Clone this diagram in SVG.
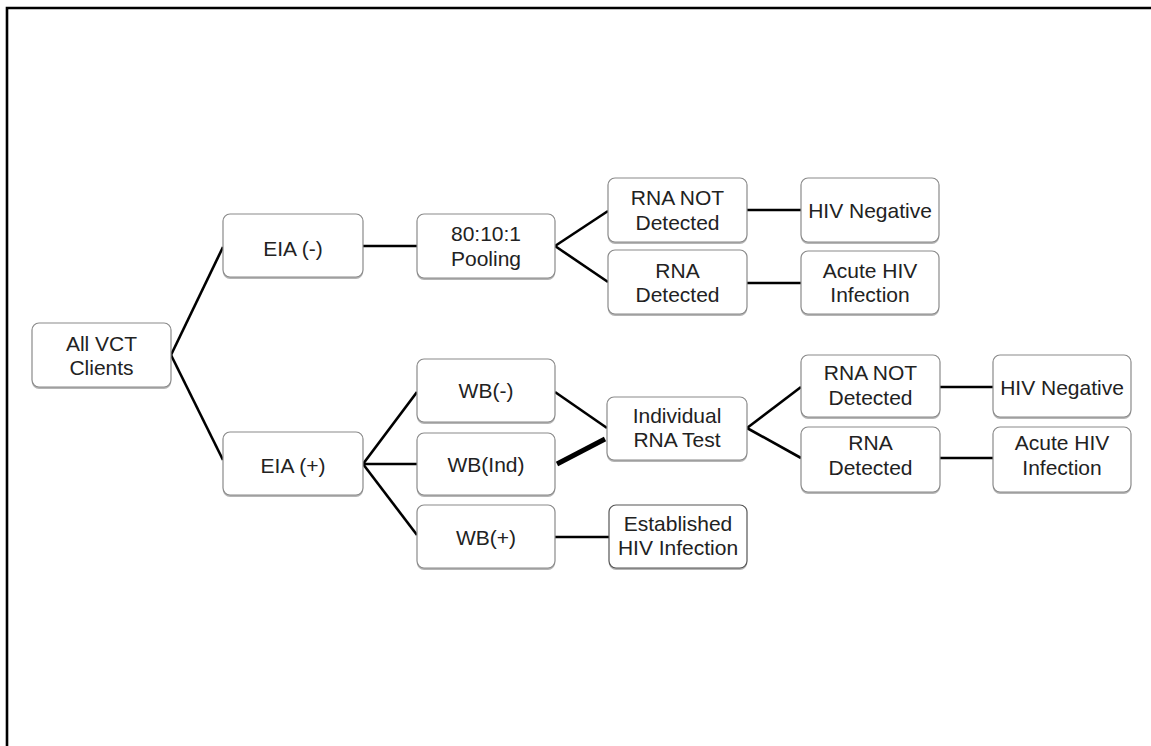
<svg xmlns="http://www.w3.org/2000/svg" width="1151" height="746" viewBox="0 0 1151 746">
<defs>
<style>
.box{fill:#fff;stroke:#8a8a8a;stroke-width:1.2}
.sh{fill:#b5b5b5;stroke:none}
.t{font-family:"Liberation Sans",Arial,sans-serif;font-size:21px;fill:#222;text-anchor:middle}
.c{stroke:#000;stroke-width:2.6;fill:none;stroke-linecap:butt}
.frame{stroke:#000;stroke-width:2.6;fill:none}
</style>
</defs>
<rect width="1151" height="746" fill="#fff"/>
<path class="frame" d="M7,746 V8 H1151"/>
<g id="connectors">
<line class="c" x1="171" y1="355" x2="223" y2="247"/>
<line class="c" x1="171" y1="355" x2="223" y2="460"/>
<line class="c" x1="363" y1="246" x2="417" y2="246"/>
<line class="c" x1="555" y1="246" x2="608" y2="211"/>
<line class="c" x1="555" y1="246" x2="608" y2="282"/>
<line class="c" x1="747" y1="210" x2="801" y2="210"/>
<line class="c" x1="747" y1="283" x2="801" y2="283"/>
<line class="c" x1="363" y1="464" x2="417" y2="392"/>
<line class="c" x1="363" y1="464" x2="417" y2="464"/>
<line class="c" x1="363" y1="464" x2="417" y2="535"/>
<line class="c" x1="555" y1="392" x2="607" y2="428"/>
<line class="c" x1="557" y1="464" x2="605" y2="439" style="stroke-width:5"/>
<line class="c" x1="555" y1="537" x2="609" y2="537"/>
<line class="c" x1="747" y1="428" x2="801" y2="387"/>
<line class="c" x1="747" y1="428" x2="801" y2="458"/>
<line class="c" x1="940" y1="387" x2="993" y2="387"/>
<line class="c" x1="940" y1="458" x2="993" y2="458"/>
</g>
<g id="n-all">
<rect class="sh" x="32" y="325" width="139" height="64" rx="7"/>
<rect class="box" x="32" y="323" width="139" height="64" rx="7"/>
<text class="t" x="101.5" y="350.5">All VCT</text>
<text class="t" x="101.5" y="374.5">Clients</text>
</g>
<g id="n-eia-neg">
<rect class="sh" x="223" y="216" width="140" height="63" rx="7"/>
<rect class="box" x="223" y="214" width="140" height="63" rx="7"/>
<text class="t" x="293" y="255.5">EIA (-)</text>
</g>
<g id="n-eia-pos">
<rect class="sh" x="223" y="434" width="140" height="63" rx="7"/>
<rect class="box" x="223" y="432" width="140" height="63" rx="7"/>
<text class="t" x="293" y="472.5">EIA (+)</text>
</g>
<g id="n-pool">
<rect class="sh" x="417" y="216" width="138" height="64" rx="7"/>
<rect class="box" x="417" y="214" width="138" height="64" rx="7"/>
<text class="t" x="486" y="240.5">80:10:1</text>
<text class="t" x="486" y="265.5">Pooling</text>
</g>
<g id="n-rna-not-1">
<rect class="sh" x="608" y="180" width="139" height="64" rx="7"/>
<rect class="box" x="608" y="178" width="139" height="64" rx="7"/>
<text class="t" x="677.5" y="204.5">RNA NOT</text>
<text class="t" x="677.5" y="229.5">Detected</text>
</g>
<g id="n-rna-det-1">
<rect class="sh" x="608" y="252" width="139" height="64" rx="7"/>
<rect class="box" x="608" y="250" width="139" height="64" rx="7"/>
<text class="t" x="677.5" y="277.5">RNA</text>
<text class="t" x="677.5" y="301.5">Detected</text>
</g>
<g id="n-hivneg-1">
<rect class="sh" x="801" y="180" width="138" height="64" rx="7"/>
<rect class="box" x="801" y="178" width="138" height="64" rx="7"/>
<text class="t" x="870" y="217.5">HIV Negative</text>
</g>
<g id="n-acute-1">
<rect class="sh" x="801" y="253" width="138" height="63" rx="7"/>
<rect class="box" x="801" y="251" width="138" height="63" rx="7"/>
<text class="t" x="870" y="277.5">Acute HIV</text>
<text class="t" x="870" y="301.5">Infection</text>
</g>
<g id="n-wb-neg">
<rect class="sh" x="417" y="361" width="138" height="63" rx="7"/>
<rect class="box" x="417" y="359" width="138" height="63" rx="7"/>
<text class="t" x="486" y="397.5">WB(-)</text>
</g>
<g id="n-wb-ind">
<rect class="sh" x="417" y="435" width="138" height="62" rx="7"/>
<rect class="box" x="417" y="433" width="138" height="62" rx="7"/>
<text class="t" x="486" y="471.5">WB(Ind)</text>
</g>
<g id="n-wb-pos">
<rect class="sh" x="417" y="507" width="138" height="63" rx="7"/>
<rect class="box" x="417" y="505" width="138" height="63" rx="7"/>
<text class="t" x="486" y="544.5">WB(+)</text>
</g>
<g id="n-indiv">
<rect class="sh" x="607" y="399" width="140" height="63" rx="7"/>
<rect class="box" x="607" y="397" width="140" height="63" rx="7"/>
<text class="t" x="677" y="422.5">Individual</text>
<text class="t" x="677" y="446.5">RNA Test</text>
</g>
<g id="n-established">
<rect class="sh" x="609" y="507" width="138" height="63" rx="7"/>
<rect class="box" x="609" y="505" width="138" height="63" rx="7" style="stroke:#555"/>
<text class="t" x="678" y="530.5">Established</text>
<text class="t" x="678" y="554.5">HIV Infection</text>
</g>
<g id="n-rna-not-2">
<rect class="sh" x="801" y="357" width="139" height="62" rx="7"/>
<rect class="box" x="801" y="355" width="139" height="62" rx="7"/>
<text class="t" x="870.5" y="379.5">RNA NOT</text>
<text class="t" x="870.5" y="404.5">Detected</text>
</g>
<g id="n-rna-det-2">
<rect class="sh" x="801" y="429" width="139" height="65" rx="7"/>
<rect class="box" x="801" y="427" width="139" height="65" rx="7"/>
<text class="t" x="870.5" y="449.5">RNA</text>
<text class="t" x="870.5" y="474.5">Detected</text>
</g>
<g id="n-hivneg-2">
<rect class="sh" x="993" y="357" width="138" height="62" rx="7"/>
<rect class="box" x="993" y="355" width="138" height="62" rx="7"/>
<text class="t" x="1062" y="394.5">HIV Negative</text>
</g>
<g id="n-acute-2">
<rect class="sh" x="993" y="429" width="138" height="65" rx="7"/>
<rect class="box" x="993" y="427" width="138" height="65" rx="7"/>
<text class="t" x="1062" y="449.5">Acute HIV</text>
<text class="t" x="1062" y="474.5">Infection</text>
</g>
</svg>
